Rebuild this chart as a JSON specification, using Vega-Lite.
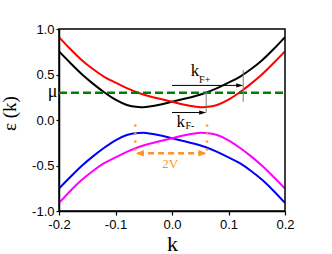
{
  "$schema": "https://vega.github.io/schema/vega-lite/v6.json",
  "autosize": {"type": "none"},
  "padding": {"left": 59, "top": 29, "right": 47, "bottom": 43},
  "width": 226,
  "height": 182,
  "config": {
    "view": {"stroke": null},
    "axis": {
      "grid": false,
      "domainColor": "#000000",
      "domainWidth": 1.5,
      "tickColor": "#000000",
      "tickWidth": 1.2,
      "labelFont": "Liberation Sans",
      "labelFontSize": 13,
      "labelColor": "#000000",
      "labelFlush": false,
      "labelOverlap": false,
      "titleFont": "Liberation Serif",
      "titleFontWeight": "normal",
      "titleColor": "#000000"
    }
  },
  "datasets": {
    "bands": [
      {"k": -0.2, "E": 0.754, "band": "upper1"},
      {"k": -0.18, "E": 0.627, "band": "upper1"},
      {"k": -0.16, "E": 0.506, "band": "upper1"},
      {"k": -0.14, "E": 0.4, "band": "upper1"},
      {"k": -0.12, "E": 0.305, "band": "upper1"},
      {"k": -0.1, "E": 0.223, "band": "upper1"},
      {"k": -0.08, "E": 0.165, "band": "upper1"},
      {"k": -0.06, "E": 0.143, "band": "upper1"},
      {"k": -0.05, "E": 0.14, "band": "upper1"},
      {"k": -0.04, "E": 0.148, "band": "upper1"},
      {"k": -0.02, "E": 0.171, "band": "upper1"},
      {"k": 0.0, "E": 0.2, "band": "upper1"},
      {"k": 0.02, "E": 0.23, "band": "upper1"},
      {"k": 0.04, "E": 0.261, "band": "upper1"},
      {"k": 0.06, "E": 0.3, "band": "upper1"},
      {"k": 0.08, "E": 0.35, "band": "upper1"},
      {"k": 0.1, "E": 0.41, "band": "upper1"},
      {"k": 0.12, "E": 0.475, "band": "upper1"},
      {"k": 0.14, "E": 0.56, "band": "upper1"},
      {"k": 0.16, "E": 0.66, "band": "upper1"},
      {"k": 0.18, "E": 0.78, "band": "upper1"},
      {"k": 0.2, "E": 0.912, "band": "upper1"},

      {"k": -0.2, "E": 0.912, "band": "upper2"},
      {"k": -0.18, "E": 0.78, "band": "upper2"},
      {"k": -0.16, "E": 0.66, "band": "upper2"},
      {"k": -0.14, "E": 0.56, "band": "upper2"},
      {"k": -0.12, "E": 0.475, "band": "upper2"},
      {"k": -0.1, "E": 0.41, "band": "upper2"},
      {"k": -0.08, "E": 0.35, "band": "upper2"},
      {"k": -0.06, "E": 0.3, "band": "upper2"},
      {"k": -0.04, "E": 0.261, "band": "upper2"},
      {"k": -0.02, "E": 0.23, "band": "upper2"},
      {"k": 0.0, "E": 0.2, "band": "upper2"},
      {"k": 0.02, "E": 0.171, "band": "upper2"},
      {"k": 0.04, "E": 0.148, "band": "upper2"},
      {"k": 0.05, "E": 0.14, "band": "upper2"},
      {"k": 0.06, "E": 0.143, "band": "upper2"},
      {"k": 0.08, "E": 0.165, "band": "upper2"},
      {"k": 0.1, "E": 0.223, "band": "upper2"},
      {"k": 0.12, "E": 0.305, "band": "upper2"},
      {"k": 0.14, "E": 0.4, "band": "upper2"},
      {"k": 0.16, "E": 0.506, "band": "upper2"},
      {"k": 0.18, "E": 0.627, "band": "upper2"},
      {"k": 0.2, "E": 0.754, "band": "upper2"},

      {"k": -0.2, "E": -0.754, "band": "lower1"},
      {"k": -0.18, "E": -0.627, "band": "lower1"},
      {"k": -0.16, "E": -0.506, "band": "lower1"},
      {"k": -0.14, "E": -0.4, "band": "lower1"},
      {"k": -0.12, "E": -0.305, "band": "lower1"},
      {"k": -0.1, "E": -0.223, "band": "lower1"},
      {"k": -0.08, "E": -0.165, "band": "lower1"},
      {"k": -0.06, "E": -0.143, "band": "lower1"},
      {"k": -0.05, "E": -0.14, "band": "lower1"},
      {"k": -0.04, "E": -0.148, "band": "lower1"},
      {"k": -0.02, "E": -0.171, "band": "lower1"},
      {"k": 0.0, "E": -0.2, "band": "lower1"},
      {"k": 0.02, "E": -0.23, "band": "lower1"},
      {"k": 0.04, "E": -0.261, "band": "lower1"},
      {"k": 0.06, "E": -0.3, "band": "lower1"},
      {"k": 0.08, "E": -0.35, "band": "lower1"},
      {"k": 0.1, "E": -0.41, "band": "lower1"},
      {"k": 0.12, "E": -0.475, "band": "lower1"},
      {"k": 0.14, "E": -0.56, "band": "lower1"},
      {"k": 0.16, "E": -0.66, "band": "lower1"},
      {"k": 0.18, "E": -0.78, "band": "lower1"},
      {"k": 0.2, "E": -0.912, "band": "lower1"},

      {"k": -0.2, "E": -0.912, "band": "lower2"},
      {"k": -0.18, "E": -0.78, "band": "lower2"},
      {"k": -0.16, "E": -0.66, "band": "lower2"},
      {"k": -0.14, "E": -0.56, "band": "lower2"},
      {"k": -0.12, "E": -0.475, "band": "lower2"},
      {"k": -0.1, "E": -0.41, "band": "lower2"},
      {"k": -0.08, "E": -0.35, "band": "lower2"},
      {"k": -0.06, "E": -0.3, "band": "lower2"},
      {"k": -0.04, "E": -0.261, "band": "lower2"},
      {"k": -0.02, "E": -0.23, "band": "lower2"},
      {"k": 0.0, "E": -0.2, "band": "lower2"},
      {"k": 0.02, "E": -0.171, "band": "lower2"},
      {"k": 0.04, "E": -0.148, "band": "lower2"},
      {"k": 0.05, "E": -0.14, "band": "lower2"},
      {"k": 0.06, "E": -0.143, "band": "lower2"},
      {"k": 0.08, "E": -0.165, "band": "lower2"},
      {"k": 0.1, "E": -0.223, "band": "lower2"},
      {"k": 0.12, "E": -0.305, "band": "lower2"},
      {"k": 0.14, "E": -0.4, "band": "lower2"},
      {"k": 0.16, "E": -0.506, "band": "lower2"},
      {"k": 0.18, "E": -0.627, "band": "lower2"},
      {"k": 0.2, "E": -0.754, "band": "lower2"}
    ]
  },
  "layer": [
    {
      "data": {"name": "bands"},
      "mark": {"type": "line", "strokeWidth": 2, "interpolate": "monotone", "clip": true},
      "encoding": {
        "x": {
          "field": "k", "type": "quantitative",
          "scale": {"domain": [-0.2, 0.2], "nice": false, "zero": false},
          "axis": {
            "values": [-0.2, -0.1, 0, 0.1, 0.2],
            "labelExpr": "replace(format(datum.value, '.1f'), '\u2212', '-')",
            "labelOverlap": false,
            "labelFlush": false,
            "tickSize": 4,
            "labelPadding": 3,
            "title": "k",
            "titleFontSize": 22,
            "titleY": 39,
            "titleBaseline": "alphabetic"
          }
        },
        "y": {
          "field": "E", "type": "quantitative",
          "scale": {"domain": [-1, 1], "nice": false, "zero": false},
          "axis": {
            "values": [-1, -0.5, 0, 0.5, 1],
            "labelExpr": "replace(format(datum.value, '.1f'), '\u2212', '-')",
            "labelOverlap": false,
            "labelFlush": false,
            "tickSize": 3,
            "labelPadding": 2,
            "title": "ε (k)",
            "titleFontSize": 19,
            "titleX": -44,
            "titleY": 84,
            "titleBaseline": "alphabetic"
          }
        },
        "color": {
          "field": "band", "type": "nominal",
          "scale": {"domain": ["upper1", "upper2", "lower1", "lower2"], "range": ["#000000", "#ff0000", "#0000ff", "#ff00ff"]},
          "legend": null
        }
      }
    },
    {
      "data": {"values": [{"k1": -0.2, "k2": 0.2, "E1": -1, "E2": 1}]},
      "mark": {"type": "rect", "fill": null, "stroke": "#000000", "strokeWidth": 1.5},
      "encoding": {"x": {"field": "k1", "type": "quantitative"}, "x2": {"field": "k2"}, "y": {"field": "E1", "type": "quantitative"}, "y2": {"field": "E2"}}
    },
    {
      "data": {"values": [{"k": -0.2, "E": 0.3}, {"k": 0.2, "E": 0.3}]},
      "mark": {"type": "line", "color": "#008000", "strokeWidth": 2.5, "strokeDash": [8, 4]},
      "encoding": {"x": {"field": "k", "type": "quantitative"}, "y": {"field": "E", "type": "quantitative"}}
    },
    {
      "data": {"values": [{"k": 0.0605, "E1": 0.08, "E2": 0.31}, {"k": 0.126, "E1": 0.2, "E2": 0.55}]},
      "mark": {"type": "rule", "color": "#7f7f7f", "strokeWidth": 1},
      "encoding": {"x": {"field": "k", "type": "quantitative"}, "y": {"field": "E1", "type": "quantitative"}, "y2": {"field": "E2"}}
    },
    {
      "data": {"values": [{"k1": 0.0, "k2": 0.122, "E": 0.38}, {"k1": 0.0, "k2": 0.056, "E": 0.082}]},
      "mark": {"type": "rule", "color": "#000000", "strokeWidth": 1},
      "encoding": {"x": {"field": "k1", "type": "quantitative"}, "x2": {"field": "k2"}, "y": {"field": "E", "type": "quantitative"}}
    },
    {
      "data": {"values": [{"k": 0.126, "E": 0.38}, {"k": 0.0605, "E": 0.082}]},
      "mark": {"type": "point", "shape": "M-1,-0.3L0,0L-1,0.3Z", "filled": true, "color": "#000000", "opacity": 1, "size": 196},
      "encoding": {"x": {"field": "k", "type": "quantitative"}, "y": {"field": "E", "type": "quantitative"}}
    },
    {
      "data": {"values": [{"k": -0.065, "E1": -0.05, "E2": -0.39}, {"k": 0.062, "E1": -0.05, "E2": -0.39}]},
      "mark": {"type": "rule", "color": "#ff9326", "strokeWidth": 2.5, "strokeDash": [2, 6]},
      "encoding": {"x": {"field": "k", "type": "quantitative"}, "y": {"field": "E1", "type": "quantitative"}, "y2": {"field": "E2"}}
    },
    {
      "data": {"values": [{"k1": -0.06, "k2": 0.057, "E": -0.365}]},
      "mark": {"type": "rule", "color": "#ff9326", "strokeWidth": 2.5, "strokeDash": [6, 4]},
      "encoding": {"x": {"field": "k1", "type": "quantitative"}, "x2": {"field": "k2"}, "y": {"field": "E", "type": "quantitative"}}
    },
    {
      "data": {"values": [{"k": -0.064, "E": -0.365, "dir": "left"}, {"k": 0.061, "E": -0.365, "dir": "right"}]},
      "mark": {"type": "point", "filled": true, "color": "#ff9326", "opacity": 1, "size": 256},
      "encoding": {
        "x": {"field": "k", "type": "quantitative"},
        "y": {"field": "E", "type": "quantitative"},
        "shape": {"field": "dir", "type": "nominal", "scale": {"domain": ["left", "right"], "range": ["M1,-0.4L0,0L1,0.4Z", "M-1,-0.4L0,0L-1,0.4Z"]}, "legend": null}
      }
    },
    {
      "data": {"values": [{"k": 0.033, "E": 0.486, "t": "k"}, {"k": 0.008, "E": -0.072, "t": "k"}]},
      "mark": {"type": "text", "font": "Liberation Serif", "fontSize": 17, "align": "left", "baseline": "alphabetic", "color": "#000000"},
      "encoding": {"x": {"field": "k", "type": "quantitative"}, "y": {"field": "E", "type": "quantitative"}, "text": {"field": "t"}}
    },
    {
      "data": {"values": [{"k": 0.048, "E": 0.405, "t": "F+"}, {"k": 0.024, "E": -0.1, "t": "F-"}]},
      "mark": {"type": "text", "font": "Liberation Serif", "fontSize": 10, "align": "left", "baseline": "alphabetic", "color": "#000000"},
      "encoding": {"x": {"field": "k", "type": "quantitative"}, "y": {"field": "E", "type": "quantitative"}, "text": {"field": "t"}}
    },
    {
      "data": {"values": [{"k": -0.2, "E": 0.255, "t": "μ"}]},
      "mark": {"type": "text", "font": "Liberation Serif", "fontSize": 18, "align": "center", "baseline": "alphabetic", "dx": -6.5, "color": "#000000"},
      "encoding": {"x": {"field": "k", "type": "quantitative"}, "y": {"field": "E", "type": "quantitative"}, "text": {"field": "t"}}
    },
    {
      "data": {"values": [{"k": -0.003, "E": -0.53, "t": "2V"}]},
      "mark": {"type": "text", "font": "Liberation Serif", "fontSize": 13, "align": "center", "baseline": "alphabetic", "color": "#ff9326"},
      "encoding": {"x": {"field": "k", "type": "quantitative"}, "y": {"field": "E", "type": "quantitative"}, "text": {"field": "t"}}
    }
  ]
}
